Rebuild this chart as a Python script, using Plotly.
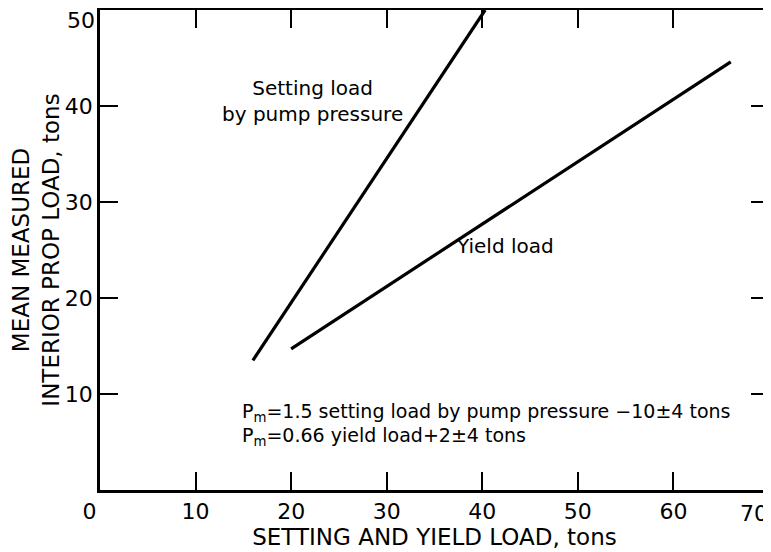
import plotly.graph_objects as go

# Data
setting_x = [16.0, 40.3]
setting_y = [13.5, 50.0]
yield_x = [20.0, 66.0]
yield_y = [14.7, 44.6]

x_ticks = [0, 10, 20, 30, 40, 50, 60, 70]
x_tick_text = ["0\u00a0\u00a0\u00a0", "10", "20", "30", "40", "50", "60", ""]
x_last_label = "70"
y_ticks = [10, 20, 30, 40, 50]
y_tick_text = ["10", "20", "30", "40", ""]
y_top_label = "50"

FONT = "DejaVu Sans"

fig = go.Figure()
fig.add_trace(go.Scatter(x=setting_x, y=setting_y, mode="lines",
                         line=dict(color="black", width=3.2), showlegend=False,
                         name="Setting load by pump pressure"))
fig.add_trace(go.Scatter(x=yield_x, y=yield_y, mode="lines",
                         line=dict(color="black", width=3.2), showlegend=False,
                         name="Yield load"))

lab_font = dict(family=FONT, size=20, color="black")
eq_font = dict(family=FONT, size=19, color="black")
tick_font = dict(family=FONT, size=22, color="black")
title_font = dict(family=FONT, size=23, color="black")

fig.add_annotation(x=22.2, y=40.5, text="Setting load<br>by pump pressure",
                   showarrow=False, font=lab_font, align="center")
fig.add_annotation(x=42.4, y=25.4, text="Yield load", showarrow=False, font=lab_font)
fig.add_annotation(x=14.6, y=8.1, xanchor="left",
                   text="P<sub>m</sub>=1.5 setting load by pump pressure −10±4 tons",
                   showarrow=False, font=eq_font)
fig.add_annotation(x=14.6, y=5.6, xanchor="left",
                   text="P<sub>m</sub>=0.66 yield load+2±4 tons",
                   showarrow=False, font=eq_font)
# end tick labels placed by hand so they stay inside the page, as in the reference
fig.add_annotation(xref="paper", x=0, xanchor="right", xshift=-4,
                   y=y_ticks[-1], yanchor="middle", yshift=-10, borderpad=0,
                   text=y_top_label, showarrow=False, font=tick_font)
fig.add_annotation(x=x_ticks[-1], xanchor="right", xshift=0, borderpad=0,
                   yref="paper", y=0, yanchor="top", yshift=-10,
                   text=x_last_label, showarrow=False, font=tick_font)

axis_common = dict(showgrid=False, zeroline=False, showline=True, linecolor="black",
                   linewidth=2.5, mirror="allticks", ticks="inside", ticklen=18,
                   tickwidth=2, tickcolor="black", automargin=False,
                   ticklabeloverflow="allow", tickfont=tick_font)

fig.update_xaxes(range=[0, 70], tickvals=x_ticks, ticktext=x_tick_text,
                 title=dict(text="SETTING AND YIELD LOAD, tons",
                            font=title_font, standoff=6),
                 **axis_common)
fig.update_yaxes(range=[0, 50], tickvals=y_ticks, ticktext=y_tick_text,
                 title=dict(text="MEAN MEASURED<br>INTERIOR PROP LOAD, tons",
                            font=title_font, standoff=4),
                 **axis_common)

# The page body adds an 8px margin, so the figure is sized to fit the window.
fig.update_layout(width=763, height=544, plot_bgcolor="white", paper_bgcolor="white",
                  margin=dict(l=92, r=2, t=2, b=62))

fig.write_html("out.html")
